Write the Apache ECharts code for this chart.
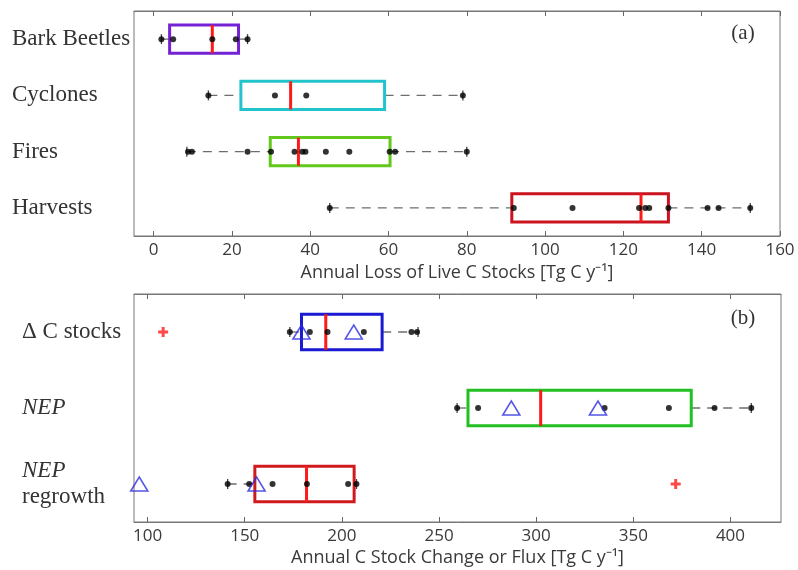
<!DOCTYPE html>
<html>
<head>
<meta charset="utf-8">
<script src="https://cdn.jsdelivr.net/npm/echarts@6/dist/echarts.min.js"></script>
<style>
  html, body { margin: 0; padding: 0; background: #fff; }
  #chart { width: 798px; height: 570px; }
</style>
</head>
<body>
<div id="chart"></div>
<script>
// panel (a): annual loss of live C stocks
const catsA = ['Bark Beetles', 'Cyclones', 'Fires', 'Harvests']
// [category index, whisker low, q1, median, q3, whisker high]
const boxA = [
  [0, 2, 4.1, 15, 21.7, 24],
  [1, 14, 22.3, 35, 59, 79],
  [2, 8.5, 29.8, 37, 60.4, 80],
  [3, 45, 91.5, 124.5, 131.5, 152.4]
]
const dotsA = [
  [2, 5, 15, 21, 24],
  [14, 31, 39, 79],
  [8.8, 9.8, 24, 30, 36, 38, 38.8, 44, 50, 60.3, 61.7, 80],
  [45, 92, 107, 124, 125.6, 126.6, 131.5, 141.5, 144.3, 152.4]
]
const ticksA = [0, 20, 40, 60, 80, 100, 120, 140, 160]

// panel (b): annual C stock change or flux
const catsB = ['Δ C stocks', 'NEP', 'NEP regrowth']
const boxB = [
  [0, 173.2, 179.2, 191.7, 220.7, 239.2],
  [1, 259.3, 264.9, 302.3, 379.8, 410.7],
  [2, 141.2, 155.2, 181.8, 206.3, 207.5]
]
const dotsB = [
  [173.2, 183.5, 192.6, 211.3, 235.8, 238.7],
  [259.3, 270.1, 335.2, 368.3, 391.8, 410.7],
  [141.2, 152.3, 164.3, 182, 203.2, 207.5]
]
const trianglesB = [
  [179.2, 206.1],
  [287.2, 331.8],
  [95.7, 156.1]
]
const outliersB = [
  [108],
  [],
  [371.8]
]
const ticksB = [100, 150, 200, 250, 300, 350, 400]

const boxColorsA = ['#7422d4', '#22c4cc', '#62c81c', '#cc1420']
const boxColorsB = ['#1a1ad2', '#22c022', '#d01a1e']

const serif = 'Liberation Serif'
const sans = 'Open Sans'

function toPoints(lists) {
  const out = []
  lists.forEach((vals, i) => vals.forEach(v => out.push([v, i])))
  return out
}

function boxRenderer(colors, ratio) {
  return function(params, api) {
    const cat = api.value(0)
    const pMin = api.coord([api.value(1), cat])
    const pQ1 = api.coord([api.value(2), cat])
    const pMed = api.coord([api.value(3), cat])
    const pQ3 = api.coord([api.value(4), cat])
    const pMax = api.coord([api.value(5), cat])
    const h = api.size([0, 1])[1] * ratio
    const y = pMed[1]
    const dash = { stroke: '#6e6e6e', lineWidth: 1.3, lineDash: [9, 7] }
    const cap = { stroke: '#444', lineWidth: 1.3 }
    return {
      type: 'group',
      children: [
        { type: 'line', shape: { x1: pMin[0], y1: y, x2: pQ1[0], y2: y }, style: dash },
        { type: 'line', shape: { x1: pQ3[0], y1: y, x2: pMax[0], y2: y }, style: dash },
        { type: 'line', shape: { x1: pMin[0], y1: y - 5, x2: pMin[0], y2: y + 5 }, style: cap },
        { type: 'line', shape: { x1: pMax[0], y1: y - 5, x2: pMax[0], y2: y + 5 }, style: cap },
        {
          type: 'rect',
          shape: { x: pQ1[0], y: y - h / 2, width: pQ3[0] - pQ1[0], height: h },
          style: { fill: 'rgba(0,0,0,0)', stroke: colors[params.dataIndex], lineWidth: 3 }
        },
        {
          type: 'line',
          shape: { x1: pMed[0], y1: y - h / 2, x2: pMed[0], y2: y + h / 2 },
          style: { stroke: '#ff1a1a', lineWidth: 3 }
        }
      ]
    }
  }
}

function bottomAxis(grid, min, max, ticks, name, nameGap) {
  return {
    type: 'value', gridIndex: grid, position: 'bottom', min: min, max: max,
    axisLine: { show: true, lineStyle: { color: '#777' } },
    axisTick: { show: true, inside: true, length: 5, customValues: ticks, lineStyle: { color: '#666' } },
    axisLabel: { customValues: ticks, color: '#3a3a3a', fontFamily: sans, fontSize: 17, margin: 6 },
    splitLine: { show: false },
    name: name, nameLocation: 'middle', nameGap: nameGap,
    nameTextStyle: { color: '#3a3a3a', fontFamily: sans, fontSize: 18 }
  }
}

function topAxis(grid, min, max, ticks) {
  return {
    type: 'value', gridIndex: grid, position: 'top', min: min, max: max,
    axisLine: { show: true, lineStyle: { color: '#777' } },
    axisTick: { show: true, inside: true, length: 5, customValues: ticks, lineStyle: { color: '#666' } },
    axisLabel: { show: false },
    splitLine: { show: false }
  }
}

function catAxis(grid, cats, margin) {
  return {
    type: 'category', gridIndex: grid, data: cats, inverse: true,
    axisLine: { show: false }, axisTick: { show: false },
    axisLabel: {
      align: 'left', margin: margin, color: '#333', fontFamily: serif, fontSize: 23,
      lineHeight: 26,
      formatter: function(v) {
        if (v === 'NEP') return '{it|NEP}'
        if (v === 'NEP regrowth') return '{it|NEP}\n{up|regrowth}'
        return v
      },
      rich: {
        it: { fontStyle: 'italic', fontFamily: serif, fontSize: 23, color: '#333', lineHeight: 26 },
        up: { fontFamily: serif, fontSize: 23, color: '#333', lineHeight: 26 }
      }
    }
  }
}

const chart = echarts.init(document.getElementById('chart'))

chart.setOption({
  animation: false,
  backgroundColor: '#fff',
  grid: [
    { left: 134, top: 11, right: 18, height: 225, show: true, borderColor: '#777', borderWidth: 1 },
    { left: 134, top: 294, right: 17, height: 228, show: true, borderColor: '#777', borderWidth: 1 }
  ],
  xAxis: [
    bottomAxis(0, -5, 160, ticksA, 'Annual Loss of Live C Stocks [Tg C y⁻¹]', 28),
    topAxis(0, -5, 160, ticksA),
    bottomAxis(1, 93, 426, ticksB, 'Annual C Stock Change or Flux [Tg C y⁻¹]', 27),
    topAxis(1, 93, 426, ticksB)
  ],
  yAxis: [
    catAxis(0, catsA, 122),
    catAxis(1, catsB, 112)
  ],
  graphic: [
    { type: 'text', x: 743, y: 33, style: { text: '(a)', font: '21px "Liberation Serif"', fill: '#333', textAlign: 'center', textVerticalAlign: 'middle' } },
    { type: 'text', x: 743, y: 318, style: { text: '(b)', font: '21px "Liberation Serif"', fill: '#333', textAlign: 'center', textVerticalAlign: 'middle' } }
  ],
  series: [
    {
      type: 'custom', xAxisIndex: 0, yAxisIndex: 0, z: 2,
      renderItem: boxRenderer(boxColorsA, 0.5),
      encode: { x: [1, 2, 3, 4, 5], y: 0 },
      data: boxA
    },
    {
      type: 'scatter', xAxisIndex: 0, yAxisIndex: 0, z: 3,
      symbolSize: 6, itemStyle: { color: '#000' },
      data: toPoints(dotsA)
    },
    {
      type: 'custom', xAxisIndex: 2, yAxisIndex: 1, z: 2,
      renderItem: boxRenderer(boxColorsB, 0.47),
      encode: { x: [1, 2, 3, 4, 5], y: 0 },
      data: boxB
    },
    {
      type: 'scatter', xAxisIndex: 2, yAxisIndex: 1, z: 3,
      symbolSize: 6, itemStyle: { color: '#000' },
      data: toPoints(dotsB)
    },
    {
      type: 'scatter', xAxisIndex: 2, yAxisIndex: 1, z: 4,
      symbol: 'triangle', symbolSize: [17, 14],
      itemStyle: { color: 'rgba(0,0,0,0)', borderColor: '#2a2ae0', borderWidth: 1.6 },
      data: toPoints(trianglesB)
    },
    {
      type: 'scatter', xAxisIndex: 2, yAxisIndex: 1, z: 4,
      symbol: 'path://M3.5,0h3v3.5h3.5v3h-3.5v3.5h-3v-3.5h-3.5v-3h3.5z', symbolSize: 10,
      itemStyle: { color: '#ff1a1a' },
      data: toPoints(outliersB)
    }
  ]
})
</script>
</body>
</html>
